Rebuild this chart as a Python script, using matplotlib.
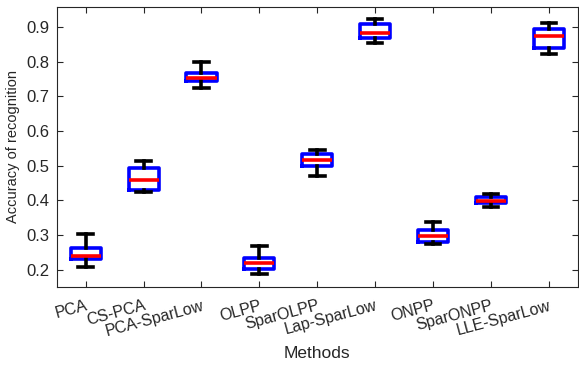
import matplotlib.pyplot as plt

plt.rcParams['font.family'] = ['Liberation Sans', 'DejaVu Sans']

# Box statistics
methods = ['PCA', 'CS-PCA', 'PCA-SparLow', 'OLPP', 'SparOLPP',
           'Lap-SparLow', 'ONPP', 'SparONPP', 'LLE-SparLow']
whis_low = [0.206, 0.423, 0.723, 0.186, 0.470, 0.855, 0.273, 0.381, 0.821]
q1 = [0.230, 0.430, 0.743, 0.201, 0.499, 0.868, 0.280, 0.391, 0.839]
median = [0.239, 0.458, 0.752, 0.219, 0.515, 0.884, 0.297, 0.399, 0.873]
q3 = [0.263, 0.493, 0.766, 0.234, 0.534, 0.909, 0.314, 0.408, 0.894]
whis_high = [0.302, 0.514, 0.800, 0.268, 0.546, 0.924, 0.336, 0.417, 0.911]

stats = []
for i in range(len(methods)):
    stats.append({'label': methods[i], 'whislo': whis_low[i], 'q1': q1[i],
                  'med': median[i], 'q3': q3[i], 'whishi': whis_high[i]})

fig = plt.figure(figsize=(5.79, 3.65), dpi=100)
ax = fig.add_axes([0.098, 0.214, 0.9, 0.767])

ax.bxp(stats, positions=range(1, len(methods) + 1), widths=0.52,
       showfliers=False,
       boxprops=dict(color='blue', linewidth=2.6),
       medianprops=dict(color='red', linewidth=2.6),
       whiskerprops=dict(color='black', linewidth=2.6),
       capprops=dict(color='black', linewidth=2.6),
       capwidths=0.25)

ax.set_xlim(0.5, 9.5)
ax.set_ylim(0.15, 0.958)
ax.set_yticks([0.2, 0.3, 0.4, 0.5, 0.6, 0.7, 0.8, 0.9])
ax.set_xticks(range(1, len(methods) + 1))
ax.set_xticklabels(methods, rotation=15, ha='right', va='top',
                   rotation_mode='anchor', fontsize=11.5)
ax.tick_params(axis='y', labelsize=12, pad=5)
ax.tick_params(axis='x', pad=8)
ax.tick_params(direction='in', top=True, right=True, length=4,
               color='#262626', labelcolor='#262626')
for s in ax.spines.values():
    s.set_color('#262626')
    s.set_linewidth(0.8)

ax.set_xlabel('Methods', fontsize=12.5, color='#262626')
ax.set_ylabel('Accuracy of recognition', fontsize=10.5, color='#262626')
ax.xaxis.set_label_coords(0.5, -0.21)
ax.yaxis.set_label_coords(-0.07, 0.5)

fig.savefig('out.png', dpi=100)
